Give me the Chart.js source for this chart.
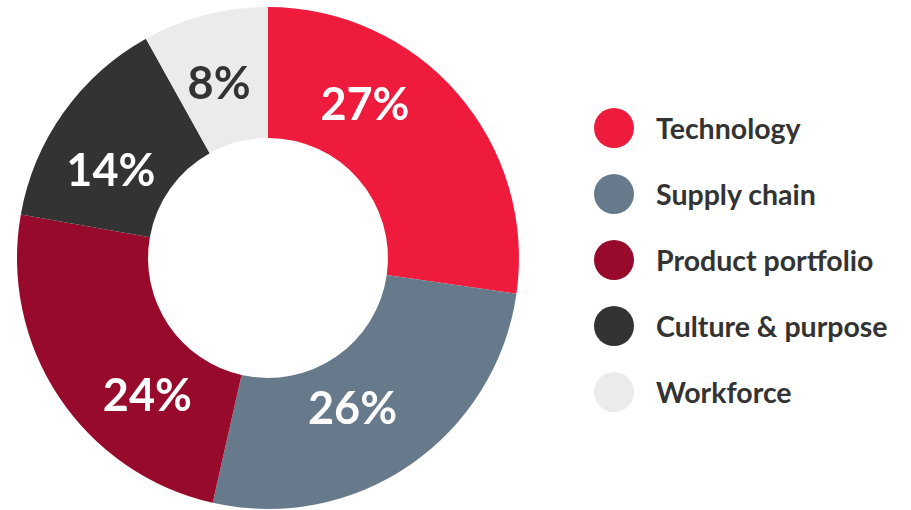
<!DOCTYPE html>
<html>
<head>
<meta charset="utf-8">
<script src="https://cdn.jsdelivr.net/npm/chart.js@4/dist/chart.umd.min.js"></script>
<style>
  html, body { margin: 0; padding: 0; background: #fff; }
  #wrap { position: relative; width: 911px; height: 510px; }
  #chartBox { position: absolute; left: 0; top: 0; width: 536px; height: 510px; }
  #legend { position: absolute; left: 594px; top: 108px; margin: 0; padding: 0; list-style: none;
            font-family: Lato, "Open Sans", sans-serif; font-weight: 700; font-size: 28.5px; color: #333; }
  #legend li { height: 66px; display: flex; align-items: flex-start; }
  #legend .dot { width: 40px; height: 40px; border-radius: 50%; margin-right: 22px; flex: none; }
  #legend .txt { line-height: 40px; }
</style>
</head>
<body>
<div id="wrap">
  <div id="chartBox"><canvas id="donut" width="536" height="510"></canvas></div>
  <ul id="legend"></ul>
</div>
<script>
var labels = ['Technology', 'Supply chain', 'Product portfolio', 'Culture & purpose', 'Workforce'];
var values = [27, 26, 24, 14, 8];
var colors = ['#ee1b3d', '#677a8c', '#970a2c', '#333333', '#ebebeb'];
var textColors = ['#ffffff', '#ffffff', '#ffffff', '#ffffff', '#333333'];

// legend on the right
var legend = document.getElementById('legend');
labels.forEach(function(name, i) {
    var li = document.createElement('li');
    li.innerHTML = '<span class="dot" style="background:' + colors[i] + '"></span><span class="txt"></span>';
    li.querySelector('.txt').textContent = name;
    legend.appendChild(li);
});

// percentage text inside each slice
var sliceLabels = {
    id: 'sliceLabels',
    afterDatasetsDraw: function(chart, args, opts) {
        var ctx = chart.ctx;
        var meta = chart.getDatasetMeta(0);
        ctx.save();
        ctx.font = '700 45px Lato, "Open Sans", sans-serif';
        ctx.textAlign = 'center';
        ctx.textBaseline = 'middle';
        meta.data.forEach(function(arc, i) {
            var p = arc.getProps(['x', 'y', 'startAngle', 'endAngle', 'innerRadius', 'outerRadius']);
            var a = (p.startAngle + p.endAngle) / 2 + (opts.shift[i] || 0) * Math.PI / 180;
            var r = (p.innerRadius + p.outerRadius) / 2 - 3 + (opts.nudge[i] || 0);
            ctx.fillStyle = textColors[i];
            ctx.fillText(values[i] + '%', p.x + Math.cos(a) * r, p.y + Math.sin(a) * r + 2);
        });
        ctx.restore();
    }
};

new Chart(document.getElementById('donut'), {
    type: 'doughnut',
    data: {
        labels: labels,
        datasets: [{
            data: values,
            backgroundColor: colors,
            borderWidth: 0
        }]
    },
    options: {
        responsive: false,
        animation: false,
        cutout: '47.8%',
        layout: { padding: { top: 7, bottom: 1, left: 17, right: 17 } },
        plugins: {
            legend: { display: false },
            tooltip: { enabled: false },
            sliceLabels: { shift: [-17, 5, -15, -6, -1], nudge: [0, -11, 0, -2, 0] }
        }
    },
    plugins: [sliceLabels]
});
</script>
</body>
</html>
